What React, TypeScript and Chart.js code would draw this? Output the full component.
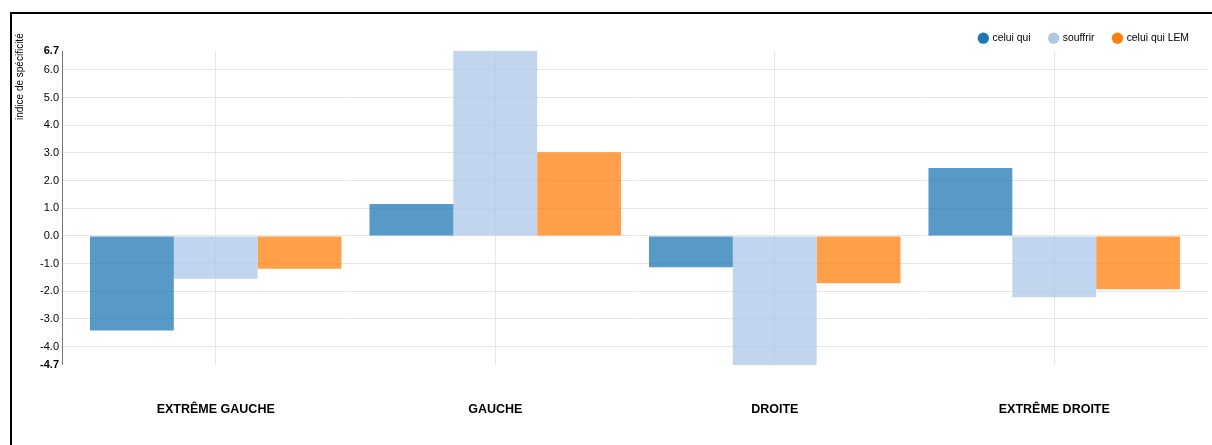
import React, { useEffect, useRef } from 'react';
import { Chart, registerables } from 'chart.js';

Chart.register(...registerables);

// ---- data ----
const categories = ['EXTRÊME GAUCHE', 'GAUCHE', 'DROITE', 'EXTRÊME DROITE'];
const seriesNames = ['celui qui', 'souffrir', 'celui qui LEM'];
const celuiQui = [-3.42, 1.15, -1.13, 2.45];
const souffrir = [-1.55, 6.68, -4.66, -2.22];
const celuiQuiLEM = [-1.19, 3.02, -1.71, -1.93];
const yTitle = 'indice de spécificité';

// ---- styles ----
const seriesColors = ['#1f77b4', '#aec7e8', '#ff7f0e'];
const seriesFill = ['rgba(31,119,180,0.75)', 'rgba(174,199,232,0.75)', 'rgba(255,127,14,0.75)'];
const FONT = '"Liberation Sans", Arial, Helvetica, sans-serif';

const allValues = [...celuiQui, ...souffrir, ...celuiQuiLEM];
const yMin = Math.min(...allValues);
const yMax = Math.max(...allValues);
const yTickValues: number[] = [yMin];
for (let v = Math.ceil(yMin); v <= Math.floor(yMax); v++) yTickValues.push(v);
yTickValues.push(yMax);
const isEdge = (v: number) => v === yMin || v === yMax;

const yTitlePlugin = {
  id: 'yTitlePlugin',
  afterDraw(chart: any) {
    const ctx = chart.ctx;
    ctx.save();
    ctx.translate(8.7, 19.3);
    ctx.rotate(-Math.PI / 2);
    ctx.textAlign = 'right';
    ctx.textBaseline = 'middle';
    ctx.font = `10px ${FONT}`;
    ctx.fillStyle = '#000';
    ctx.fillText(yTitle, 0, 0);
    ctx.restore();
  },
};

export default function App() {
  const ref = useRef<HTMLCanvasElement>(null);

  useEffect(() => {
    if (!ref.current) return;
    const seriesData = [celuiQui, souffrir, celuiQuiLEM];
    const chart = new Chart(ref.current, {
      type: 'bar',
      data: {
        labels: categories,
        datasets: seriesNames.map((name, i) => ({
          label: name,
          data: seriesData[i],
          backgroundColor: seriesFill[i],
          borderWidth: 0,
          categoryPercentage: 0.9,
          barPercentage: 1.0,
        })),
      },
      options: {
        animation: false,
        responsive: false,
        devicePixelRatio: 1,
        layout: { padding: { top: 0, right: 4, bottom: 28.7, left: 0 } },
        plugins: {
          tooltip: { enabled: false },
          legend: {
            position: 'top',
            align: 'end',
            maxHeight: 37,
            labels: {
              usePointStyle: true,
              pointStyle: 'circle',
              boxWidth: 8,
              boxHeight: 8,
              padding: 19,
              color: '#000',
              font: { size: 10.4, family: FONT },
              generateLabels: (c: any) =>
                Chart.defaults.plugins.legend.labels.generateLabels(c).map((l: any, i: number) => ({
                  ...l,
                  fillStyle: seriesColors[i],
                  strokeStyle: seriesColors[i],
                  lineWidth: 0,
                })),
            },
          },
        },
        scales: {
          x: {
            offset: true,
            grid: { display: true, offset: false, color: '#e8e8e8', drawTicks: false },
            border: { display: false },
            ticks: {
              padding: 37.5,
              color: '#000',
              font: { size: 12.5, weight: 'bold', family: FONT },
              maxRotation: 0,
            },
            afterFit: (scale: any) => {
              scale.height = 51.4;
            },
            afterBuildTicks: (scale: any) => {
              scale._startValue = -0.55;
              scale._valueRange = 4.1;
            },
          },
          y: {
            min: yMin,
            max: yMax,
            afterFit: (scale: any) => {
              scale.width = 50;
            },
            afterBuildTicks: (scale: any) => {
              scale.ticks = yTickValues.map((v) => ({ value: v }));
            },
            grid: {
              drawTicks: false,
              color: (ctx: any) => (ctx.tick && isEdge(ctx.tick.value) ? 'rgba(0,0,0,0)' : '#e5e5e5'),
            },
            border: { display: true, color: '#777', width: 1 },
            ticks: {
              padding: 3,
              autoSkip: false,
              color: '#000',
              font: (ctx: any) => ({
                size: 11,
                family: FONT,
                weight: ctx.tick && isEdge(ctx.tick.value) ? 'bold' : 'normal',
              }),
              callback: (v: any) => Number(v).toFixed(1),
            },
          },
        },
      },
      plugins: [yTitlePlugin],
    } as any);
    return () => chart.destroy();
  }, []);

  return (
    <div
      style={{
        position: 'fixed',
        left: 0,
        top: 0,
        width: 1212,
        height: 445,
        overflow: 'hidden',
        background: '#fff',
      }}
    >
      <div
        style={{
          position: 'absolute',
          left: 10,
          top: 12,
          width: 1300,
          height: 500,
          borderLeft: '2px solid #000',
          borderTop: '2px solid #000',
        }}
      />
      <canvas
        ref={ref}
        width={1200}
        height={431}
        style={{ position: 'absolute', left: 12, top: 14, width: 1200, height: 431 }}
      />
    </div>
  );
}
